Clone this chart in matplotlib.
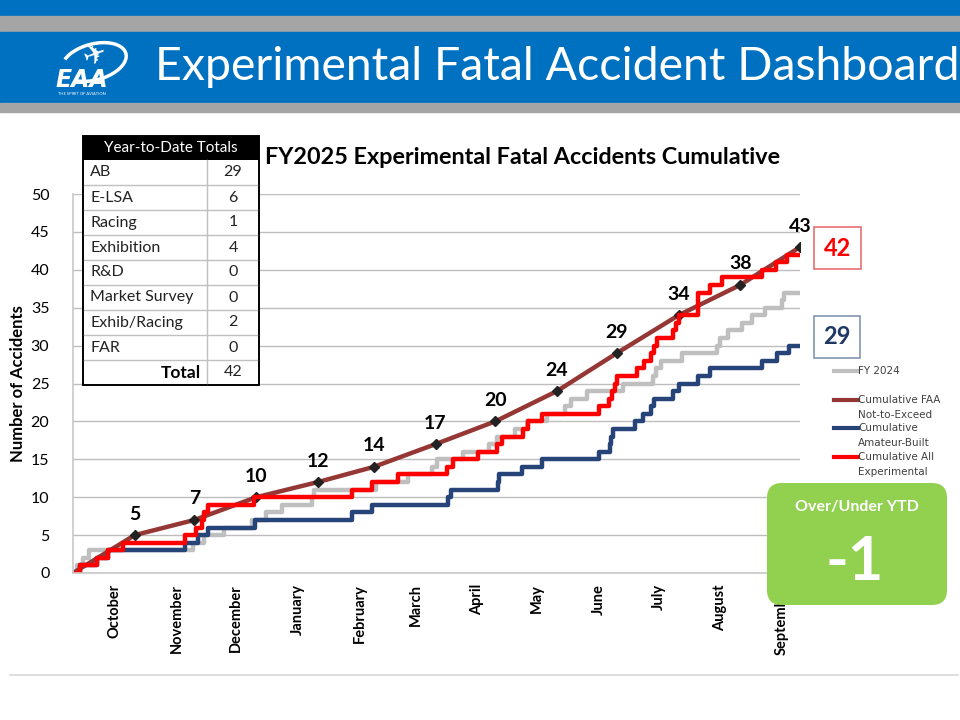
import matplotlib
matplotlib.use("Agg")
import matplotlib.pyplot as plt
from matplotlib.patches import Rectangle, FancyBboxPatch, Arc

plt.rcParams["font.family"] = ["Lato", "DejaVu Sans"]

# x axis = days since 1 October (fiscal year start)
month_names = ["October", "November", "December", "January", "February", "March",
               "April", "May", "June", "July", "August", "September"]
month_starts = [0, 31, 61, 92, 123, 151, 182, 212, 243, 273, 304, 335]

# FAA not-to-exceed (cumulative, end of each month)
faa_days = [0, 31, 61, 92, 123, 151, 182, 212, 243, 273, 304, 335, 365]
faa_vals = [0, 5, 7, 10, 12, 14, 17, 20, 24, 29, 34, 38, 43]

# cumulative all experimental FY2025
red_days = [0, 3.5, 12, 17.5, 25, 56, 62, 65, 66, 68, 91, 140, 150, 163, 188, 191,
            203.5, 213, 215.5, 226, 228.5, 235.5, 264, 269, 270.5, 272, 273, 283,
            286.5, 290, 291.5, 293, 301, 302.5, 304, 314, 320, 326, 346, 353, 358.5, 365]
red_vals = [0, 1, 2, 3, 4, 5, 6, 7, 8, 9, 10, 11, 12, 13, 14, 15, 16, 17, 18, 19, 20,
            21, 22, 23, 24, 25, 26, 27, 28, 29, 30, 31, 32, 33, 34, 37, 38, 39, 40, 41, 42, 42]

# cumulative amateur-built FY2025
blue_days = [0, 3.5, 12, 17.5, 56, 63, 68, 91.5, 140, 150, 188.5, 190, 213.5, 214,
             225.5, 235.5, 264, 269.5, 270, 271, 282.4, 286, 290, 291.6, 301, 304.5,
             314, 320, 346, 353.5, 359.5, 365]
blue_vals = [0, 1, 2, 3, 4, 5, 6, 7, 8, 9, 10, 11, 12, 13, 14, 15, 16, 17, 18, 19, 20,
             21, 22, 23, 24, 25, 26, 27, 28, 29, 30, 30]

# FY 2024
gray_days = [0, 2, 5, 8, 60, 66, 76, 90, 97, 105, 120, 121, 152, 168, 180, 183, 196,
             209, 213, 222, 228, 238, 247, 250, 258, 276, 291, 292.5, 295, 306, 323.5,
             325, 329, 336, 341, 347.5, 356, 357, 365]
gray_vals = [0, 1, 2, 3, 4, 5, 6, 7, 8, 9, 10, 11, 12, 13, 14, 15, 16, 17, 18, 19, 20,
             21, 22, 23, 24, 25, 26, 27, 28, 29, 30, 31, 32, 33, 34, 35, 36, 37, 37]

table_rows = ["AB", "E-LSA", "Racing", "Exhibition", "R&D", "Market Survey",
              "Exhib/Racing", "FAR"]
table_vals = [29, 6, 1, 4, 0, 0, 2, 0]
table_total = 42

all_exp_ytd = 42
ab_ytd = 29
over_under = "-1"

c_red = "#FF0000"
c_blue = "#264478"
c_brown = "#953735"
c_gray = "#BFBFBF"

fig = plt.figure(figsize=(9.6, 7.2), dpi=100)

# ---- chart
ax = fig.add_axes([73 / 960, 147 / 720, 727 / 960, 379 / 720])
ax.set_xlim(0, 365)
ax.set_ylim(0, 50)
ax.set_yticks(range(0, 51, 5))
ax.grid(axis="y", color="#BDBDBD", lw=1.0)
ax.set_axisbelow(True)
for s in ["top", "right"]:
    ax.spines[s].set_visible(False)
for s in ["left", "bottom"]:
    ax.spines[s].set_color("#C8C8C8")
    ax.spines[s].set_linewidth(1.2)
ax.tick_params(axis="y", length=0, labelsize=11.5, pad=17)
ax.tick_params(axis="x", length=0, labelsize=10.5, pad=8)
ax.set_xticks([d + 21 for d in month_starts])
ax.set_xticklabels(month_names, rotation=90, fontweight="bold")
ax.set_ylabel("Number of Accidents", fontsize=12, fontweight="bold", labelpad=3)

ax.plot(gray_days, gray_vals, drawstyle="steps-post", color=c_gray, lw=3.2)
ax.plot(faa_days, faa_vals, color=c_brown, lw=3.2)
ax.plot(faa_days[1:], faa_vals[1:], ls="none", marker="D", ms=5,
        mfc="#222222", mec="#222222")
for d, v in zip(faa_days[1:], faa_vals[1:]):
    ax.annotate(str(v), (d, v), xytext=(0, 9), textcoords="offset points",
                ha="center", va="bottom", fontsize=14, fontweight="bold")
ax.plot(blue_days, blue_vals, drawstyle="steps-post", color=c_blue, lw=3.2)
ax.plot(red_days, red_vals, drawstyle="steps-post", color=c_red, lw=3.2)

# ---- overlay in pixel coordinates
ov = fig.add_axes([0, 0, 1, 1])
ov.set_xlim(0, 960)
ov.set_ylim(720, 0)
ov.axis("off")
ov.patch.set_alpha(0)

# header bands
ov.add_patch(Rectangle((0, 0), 960, 16, color="#0070C0"))
ov.add_patch(Rectangle((0, 16), 960, 16, color="#A5A5A5"))
ov.add_patch(Rectangle((0, 32), 960, 71, color="#0070C0"))
ov.add_patch(Rectangle((0, 103), 960, 9, color="#A5A5A5"))
ov.text(155, 67, "Experimental Fatal Accident Dashboard", color="white",
        fontsize=33.4, ha="left", va="center")

# logo
ov.add_patch(Arc((94, 62), 66, 36, angle=-15, theta1=200, theta2=150,
                 color="white", lw=2.5))
ov.text(95, 55, "\u2708", color="white", fontsize=20, ha="center", va="center",
        rotation=20, family="DejaVu Sans")
ov.text(82, 80, "EAA", color="white", fontsize=17, fontweight="bold",
        style="italic", ha="center", va="center", family="DejaVu Sans")
ov.text(82, 94, "THE SPIRIT OF AVIATION", color="white", fontsize=3,
        ha="center", va="center")

# chart title
ov.text(265, 157, "FY2025 Experimental Fatal Accidents Cumulative",
        fontsize=16.8, fontweight="bold", ha="left", va="center")

# table
tx0, tx1, tdiv = 83, 259, 207
ty0, hh, rh = 136, 24, 25
n = len(table_rows) + 1
ov.add_patch(Rectangle((tx0, ty0), tx1 - tx0, hh + n * rh, facecolor="white",
                       edgecolor="black", lw=1.2, zorder=3))
ov.add_patch(Rectangle((tx0, ty0), tx1 - tx0, hh, facecolor="black", zorder=4))
ov.text((tx0 + tx1) / 2, ty0 + hh / 2, "Year-to-Date Totals", color="white",
        fontsize=11, ha="center", va="center", zorder=5)
for i in range(n):
    yt = ty0 + hh + i * rh
    if i > 0:
        ov.plot([tx0, tx1], [yt, yt], color="#C0C0C0", lw=1, zorder=4)
    yc = yt + rh / 2
    if i < len(table_rows):
        ov.text(tx0 + 7, yc, table_rows[i], fontsize=11.5, ha="left", va="center",
                color="#222222", zorder=5)
        ov.text((tdiv + tx1) / 2, yc, str(table_vals[i]), fontsize=11.5,
                ha="center", va="center", color="#222222", zorder=5)
    else:
        ov.text(tdiv - 6, yc, "Total", fontsize=12.5, fontweight="bold",
                ha="right", va="center", zorder=5)
        ov.text((tdiv + tx1) / 2, yc, str(table_total), fontsize=11.5,
                ha="center", va="center", color="#222222", zorder=5)
ov.plot([tdiv, tdiv], [ty0 + hh, ty0 + hh + n * rh], color="#C0C0C0", lw=1, zorder=4)
ov.add_patch(Rectangle((tx0, ty0), tx1 - tx0, hh + n * rh, facecolor="none",
                       edgecolor="black", lw=1.2, zorder=6))

# value boxes
ov.add_patch(Rectangle((814, 227), 47, 42, facecolor="white", edgecolor="#E87070", lw=1.2))
ov.text(837.5, 248, str(all_exp_ytd), color=c_red, fontsize=17, fontweight="bold",
        ha="center", va="center")
ov.add_patch(Rectangle((814, 316), 46, 42, facecolor="white", edgecolor="#8496B0", lw=1.2))
ov.text(837, 337, str(ab_ytd), color="#1F3864", fontsize=17, fontweight="bold",
        ha="center", va="center")

# legend
leg = [(371, c_gray, "FY 2024"),
       (400, c_brown, "Cumulative FAA\nNot-to-Exceed"),
       (428, c_blue, "Cumulative\nAmateur-Built"),
       (457, c_red, "Cumulative All\nExperimental")]
for yl, col, lab in leg:
    ov.plot([834, 858], [yl, yl], color=col, lw=3)
    ov.text(858, yl - 5, lab, fontsize=7.5, color="#404040", ha="left", va="top",
            linespacing=1.6, family="DejaVu Sans")

# over/under box
ov.add_patch(FancyBboxPatch((782, 498), 150, 92, boxstyle="round,pad=15",
                            facecolor="#92D050", edgecolor="none", zorder=7))
ov.text(857, 507, "Over/Under YTD", color="white", fontsize=11.5, fontweight="bold",
        ha="center", va="center", zorder=8)
ov.text(855, 562, over_under, color="white", fontsize=44, fontweight="bold",
        ha="center", va="center", zorder=8)

# bottom frame line
ov.plot([10, 958], [675, 675], color="#D9D9D9", lw=1.2)

fig.savefig("out.png", dpi=100)
